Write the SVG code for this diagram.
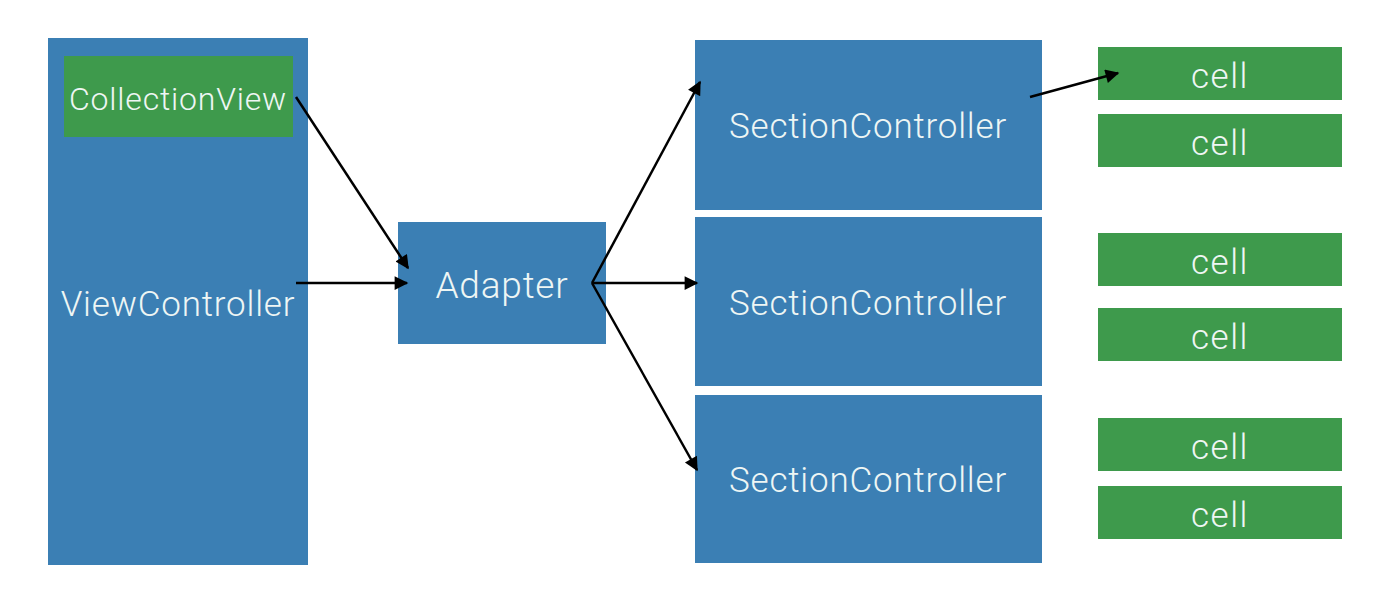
<svg xmlns="http://www.w3.org/2000/svg" width="1400" height="596" viewBox="0 0 1400 596">
<defs>
<style>
.blue{fill:#3b7fb4;}
.green{fill:#3e9a4c;}
.t{font-family:Roboto,"Liberation Sans",sans-serif;font-weight:300;fill:#eef6f4;text-anchor:middle;letter-spacing:0.8px;}
.big{font-size:35px;}
.cv{font-size:32px;}
.ad{font-size:37px;}
.cell{font-size:35px;letter-spacing:1.5px;}
.conn{stroke:#000;stroke-width:2.5;fill:none;marker-end:url(#ah);}
</style>
<marker id="ah" viewBox="0 0 10 10" refX="9" refY="5" markerWidth="7" markerHeight="5.5" markerUnits="strokeWidth" orient="auto">
<path d="M0,0 L10,5 L0,10 z" fill="#000"/>
</marker>
</defs>
<rect width="1400" height="596" fill="#ffffff"/>
<g id="viewcontroller">
<rect class="blue" x="48" y="38" width="260" height="527"/>
<text class="t big" x="178" y="316">ViewController</text>
</g>
<g id="collectionview">
<rect class="green" x="64" y="56" width="229" height="81"/>
<text class="t cv" x="178" y="110">CollectionView</text>
</g>
<g id="adapter">
<rect class="blue" x="398" y="222" width="208" height="122"/>
<text class="t ad" x="502" y="298">Adapter</text>
</g>
<g id="section1">
<rect class="blue" x="695" y="40" width="347" height="170"/>
<text class="t big" x="868" y="138">SectionController</text>
</g>
<g id="section2">
<rect class="blue" x="695" y="217" width="347" height="169"/>
<text class="t big" x="868" y="315">SectionController</text>
</g>
<g id="section3">
<rect class="blue" x="695" y="395" width="347" height="168"/>
<text class="t big" x="868" y="492">SectionController</text>
</g>
<g id="cell1"><rect class="green" x="1098" y="47" width="244" height="53"/><text class="t cell" x="1220" y="88">cell</text></g>
<g id="cell2"><rect class="green" x="1098" y="114" width="244" height="53"/><text class="t cell" x="1220" y="155">cell</text></g>
<g id="cell3"><rect class="green" x="1098" y="233" width="244" height="53"/><text class="t cell" x="1220" y="274">cell</text></g>
<g id="cell4"><rect class="green" x="1098" y="308" width="244" height="53"/><text class="t cell" x="1220" y="349">cell</text></g>
<g id="cell5"><rect class="green" x="1098" y="418" width="244" height="53"/><text class="t cell" x="1220" y="459">cell</text></g>
<g id="cell6"><rect class="green" x="1098" y="486" width="244" height="53"/><text class="t cell" x="1220" y="527">cell</text></g>
<g id="connectors">
<line class="conn" x1="296" y1="97" x2="408" y2="268"/>
<line class="conn" x1="296" y1="283" x2="407" y2="283"/>
<line class="conn" x1="592" y1="283" x2="700" y2="82"/>
<line class="conn" x1="592" y1="283" x2="697" y2="283"/>
<line class="conn" x1="592" y1="283" x2="697" y2="470"/>
<line class="conn" x1="1030" y1="97" x2="1118" y2="73"/>
</g>
</svg>
